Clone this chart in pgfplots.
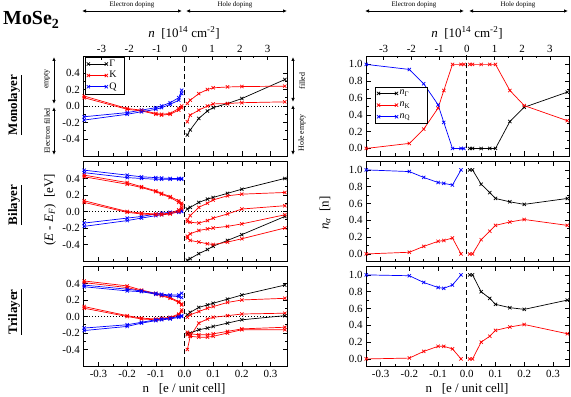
\documentclass[border=0pt]{standalone}
\usepackage{pgfplots}
\pgfplotsset{compat=1.18}
\usepackage{fontspec}
\setmainfont{Liberation Serif}
\usetikzlibrary{arrows.meta}
\definecolor{gred}{RGB}{255,0,0}
\definecolor{gblue}{RGB}{0,0,255}
\pgfplotsset{
  panel/.style={scale only axis, width=204.4bp, height=100bp, xmin=-0.353, xmax=0.36,
    tick align=inside, major tick length=4.5bp, minor tick length=2.5bp,
    every tick/.style={black, line width=0.6bp},
    axis line style={line width=0.9bp},
    xtick={-0.3,-0.2,-0.1,0,0.1,0.2,0.3}, minor x tick num=1, xticklabels={},
    tick label style={font=\fontsize{11}{12}\selectfont},
    every axis plot/.append style={line width=0.7bp, mark size=2.3bp, mark options={solid}},
    legend image code/.code={\draw[#1] plot coordinates {(0bp,0bp) (18bp,0bp)};},
  },
  epanel/.style={panel, ymin=-0.605, ymax=0.605, ytick={-0.4,-0.2,0,0.2,0.4},
    yticklabels={\textrm{-0.4},\textrm{-0.2},\textrm{0.0},\textrm{0.2},\textrm{0.4}}, minor y tick num=1},
  npanel/.style={panel, width=203bp, xmin=-0.351, xmax=0.356, ymin=-0.09, ymax=1.1,
    ytick={0,0.2,0.4,0.6,0.8,1.0}, yticklabels={\textrm{0.0},\textrm{0.2},\textrm{0.4},\textrm{0.6},\textrm{0.8},\textrm{1.0}}, minor y tick num=1},
  bottomlabels/.style={xticklabels={\textrm{-0.3},\textrm{-0.2},\textrm{-0.1},\textrm{0.0},\textrm{0.1},\textrm{0.2},\textrm{0.3}}},
  toppanel/.style={scale only axis, height=100bp, ymin=0, ymax=1, axis x line*=top, axis y line=none,
    tick align=inside, major tick length=4.5bp, minor tick length=2.5bp,
    every tick/.style={black, line width=0.6bp}, axis line style={line width=0.9bp},
    xtick={-0.2895,-0.193,-0.0965,0,0.0965,0.193,0.2895},
    xticklabels={\textrm{-3},\textrm{-2},\textrm{-1},\textrm{0},\textrm{1},\textrm{2},\textrm{3}},
    minor x tick num=1, tick label style={font=\fontsize{11}{12}\selectfont}},
  bk/.style={black, mark=x}, rd/.style={gred, mark=x}, bl/.style={gblue, mark=x},
  leg/.style={legend style={draw=black, line width=0.6bp, font=\fontsize{10}{11}\selectfont,
    inner sep=1.5bp, row sep=0.3bp, nodes={inner sep=1.5bp}}, legend cell align=left},
}
\newcommand{\vzero}{\addplot[black, mark=none, dash pattern=on 5bp off 3bp, line width=1bp, forget plot] coordinates {(0,-2)(0,2)};}
\newcommand{\hzero}{\addplot[black, mark=none, dash pattern=on 1bp off 2bp, line width=0.8bp, forget plot] coordinates {(-0.5,0)(0.5,0)};}
\begin{document}
\begin{tikzpicture}
\useasboundingbox (0,0) rectangle (571bp,397bp);
% ---------------- Left: monolayer
\begin{axis}[epanel, at={(83.3bp,341bp)}, anchor=north west, xtick pos=bottom, leg,
  legend style={at={(0.008,0.992)}, anchor=north west}]
\hzero \vzero
\addplot[bk] coordinates {(0.01,-0.35)(0.02,-0.29)(0.05,-0.15)(0.08,-0.06)(0.1,-0.02)(0.15,0.03)(0.2,0.09)(0.35,0.32)};
\addplot[rd] coordinates {(-0.35,0.12)(-0.2,-0.03)(-0.15,-0.05)(-0.1,-0.09)(-0.08,-0.10)(-0.05,-0.09)(-0.02,-0.03)(-0.01,0.0)};
\addplot[bl] coordinates {(-0.35,-0.13)(-0.2,-0.08)(-0.15,-0.05)(-0.1,-0.02)(-0.08,0.0)(-0.05,0.04)(-0.02,0.10)(-0.01,0.19)};
\addplot[rd, forget plot] coordinates {(-0.35,0.10)(-0.2,-0.04)(-0.15,-0.06)(-0.1,-0.10)(-0.08,-0.11)(-0.05,-0.10)(-0.02,-0.05)(-0.01,-0.02)};
\addplot[bl, forget plot] coordinates {(-0.35,-0.17)(-0.2,-0.10)(-0.15,-0.07)(-0.1,-0.04)(-0.08,-0.02)(-0.05,0.02)(-0.02,0.07)(-0.01,0.15)};
\addplot[rd, forget plot] coordinates {(0.01,0.03)(0.02,0.07)(0.05,0.15)(0.08,0.20)(0.1,0.22)(0.15,0.23)(0.2,0.235)(0.35,0.24)};
\addplot[rd, forget plot] coordinates {(0.01,-0.19)(0.02,-0.11)(0.05,-0.05)(0.08,0.0)(0.1,0.025)(0.15,0.03)(0.2,0.04)(0.35,0.05)};
\legend{Γ\hspace*{5bp},K\hspace*{5bp},Q\hspace*{5bp}}
\end{axis}
\begin{axis}[toppanel, width=204.4bp, xmin=-0.353, xmax=0.36, at={(83.3bp,341bp)}, anchor=north west]
\addplot[draw=none] coordinates {(0,0.5)};
\end{axis}
% ---------------- Left: bilayer
\begin{axis}[epanel, at={(83.3bp,235.5bp)}, anchor=north west]
\hzero \vzero
\addplot[bl] coordinates {(-0.35,0.50)(-0.2,0.44)(-0.15,0.42)(-0.1,0.41)(-0.08,0.405)(-0.05,0.40)(-0.02,0.40)(-0.01,0.40)};
\addplot[bl] coordinates {(-0.35,0.47)(-0.2,0.41)(-0.15,0.40)(-0.1,0.39)(-0.08,0.39)(-0.05,0.39)(-0.02,0.39)(-0.01,0.39)};
\addplot[bl] coordinates {(-0.35,-0.14)(-0.2,-0.08)(-0.15,-0.06)(-0.1,-0.03)(-0.08,-0.02)(-0.05,-0.01)(-0.02,0.0)(-0.01,0.01)};
\addplot[bl] coordinates {(-0.35,-0.18)(-0.2,-0.11)(-0.15,-0.08)(-0.1,-0.05)(-0.08,-0.04)(-0.05,-0.02)(-0.02,-0.01)(-0.01,0.0)};
\addplot[rd] coordinates {(-0.35,0.44)(-0.2,0.35)(-0.15,0.30)(-0.1,0.25)(-0.08,0.22)(-0.05,0.18)(-0.02,0.13)(-0.01,0.10)};
\addplot[rd] coordinates {(-0.35,0.42)(-0.2,0.33)(-0.15,0.29)(-0.1,0.24)(-0.08,0.21)(-0.05,0.17)(-0.02,0.11)(-0.01,0.08)};
\addplot[rd] coordinates {(-0.35,0.13)(-0.2,0.0)(-0.15,-0.02)(-0.1,-0.03)(-0.08,-0.03)(-0.05,-0.02)(-0.02,0.02)(-0.01,0.05)};
\addplot[rd] coordinates {(-0.35,0.11)(-0.2,-0.01)(-0.15,-0.03)(-0.1,-0.04)(-0.08,-0.04)(-0.05,-0.03)(-0.02,0.0)(-0.01,0.03)};
\addplot[bk] coordinates {(0.01,0.03)(0.02,0.05)(0.05,0.11)(0.08,0.15)(0.1,0.17)(0.15,0.22)(0.2,0.27)(0.35,0.40)};
\addplot[bk] coordinates {(0.01,-0.59)(0.02,-0.57)(0.05,-0.51)(0.08,-0.46)(0.1,-0.42)(0.15,-0.35)(0.2,-0.28)(0.35,-0.06)};
\addplot[rd] coordinates {(0.01,-0.10)(0.02,-0.05)(0.05,0.05)(0.08,0.10)(0.1,0.14)(0.15,0.19)(0.2,0.21)(0.35,0.23)};
\addplot[rd] coordinates {(0.01,-0.12)(0.02,-0.13)(0.05,-0.14)(0.08,-0.11)(0.1,-0.08)(0.15,-0.03)(0.2,0.03)(0.35,0.07)};
\addplot[rd] coordinates {(0.01,-0.30)(0.02,-0.27)(0.05,-0.23)(0.08,-0.21)(0.1,-0.20)(0.15,-0.18)(0.2,-0.15)(0.35,-0.04)};
\addplot[rd] coordinates {(0.01,-0.32)(0.02,-0.35)(0.05,-0.37)(0.08,-0.39)(0.1,-0.40)(0.15,-0.37)(0.2,-0.33)(0.35,-0.20)};
\end{axis}
% ---------------- Left: trilayer
\begin{axis}[epanel, at={(83.3bp,130.5bp)}, anchor=north west, bottomlabels]
\hzero \vzero
\addplot[rd] coordinates {(-0.35,0.43)(-0.2,0.37)(-0.15,0.32)(-0.1,0.28)(-0.08,0.26)(-0.05,0.23)(-0.02,0.18)(-0.01,0.15)};
\addplot[rd] coordinates {(-0.35,0.41)(-0.2,0.35)(-0.15,0.31)(-0.1,0.27)(-0.08,0.25)(-0.05,0.22)(-0.02,0.17)(-0.01,0.14)};
\addplot[bl] coordinates {(-0.35,0.38)(-0.2,0.33)(-0.15,0.31)(-0.1,0.28)(-0.08,0.27)(-0.05,0.26)(-0.02,0.26)(-0.01,0.28)};
\addplot[bl] coordinates {(-0.35,0.36)(-0.2,0.31)(-0.15,0.30)(-0.1,0.27)(-0.08,0.26)(-0.05,0.25)(-0.02,0.24)(-0.01,0.23)};
\addplot[rd] coordinates {(-0.35,0.12)(-0.2,0.01)(-0.15,-0.02)(-0.1,-0.03)(-0.08,-0.02)(-0.05,-0.01)(-0.02,0.03)(-0.01,0.08)};
\addplot[rd] coordinates {(-0.35,0.10)(-0.2,0.0)(-0.15,-0.03)(-0.1,-0.04)(-0.08,-0.03)(-0.05,-0.02)(-0.02,0.02)(-0.01,0.06)};
\addplot[bl] coordinates {(-0.35,-0.14)(-0.2,-0.10)(-0.15,-0.07)(-0.1,-0.04)(-0.08,-0.03)(-0.05,-0.02)(-0.02,0.0)(-0.01,0.01)};
\addplot[bl] coordinates {(-0.35,-0.17)(-0.2,-0.12)(-0.15,-0.08)(-0.1,-0.05)(-0.08,-0.04)(-0.05,-0.03)(-0.02,-0.01)(-0.01,0.0)};
\addplot[bk] coordinates {(0.01,0.02)(0.02,0.05)(0.05,0.11)(0.08,0.14)(0.1,0.16)(0.15,0.21)(0.2,0.26)(0.35,0.38)};
\addplot[rd] coordinates {(0.01,-0.01)(0.02,0.02)(0.05,0.06)(0.08,0.10)(0.1,0.12)(0.15,0.17)(0.2,0.20)(0.35,0.22)};
\addplot[rd] coordinates {(0.01,-0.40)(0.02,-0.24)(0.05,-0.08)(0.08,-0.03)(0.1,-0.01)(0.15,0.01)(0.2,0.03)(0.35,0.04)};
\addplot[bk] coordinates {(0.01,-0.21)(0.02,-0.20)(0.05,-0.16)(0.08,-0.14)(0.1,-0.12)(0.15,-0.08)(0.2,-0.04)(0.35,0.01)};
\addplot[rd] coordinates {(0.01,-0.19)(0.02,-0.21)(0.05,-0.22)(0.08,-0.22)(0.1,-0.21)(0.15,-0.18)(0.2,-0.15)(0.35,-0.13)};
\addplot[rd] coordinates {(0.01,-0.22)(0.02,-0.24)(0.05,-0.25)(0.08,-0.25)(0.1,-0.24)(0.15,-0.20)(0.2,-0.16)(0.35,-0.16)};
\end{axis}
% ---------------- Right: monolayer
\begin{axis}[npanel, at={(366bp,341bp)}, anchor=north west, xtick pos=bottom, leg,
  legend style={at={(0.045,0.69)}, anchor=north west, row sep=2.5bp}]
\vzero
\addplot[bk] coordinates {(0.01,0)(0.02,0)(0.05,0)(0.08,0)(0.1,0)(0.15,0.32)(0.2,0.49)(0.35,0.67)};
\addplot[rd] coordinates {(-0.35,0)(-0.2,0.06)(-0.15,0.23)(-0.1,0.48)(-0.08,0.69)(-0.05,1.0)(-0.02,1)(-0.01,1)};
\addplot[bl] coordinates {(-0.35,1.0)(-0.2,0.94)(-0.15,0.77)(-0.1,0.52)(-0.08,0.31)(-0.05,0.0)(-0.02,0)(-0.01,0)};
\addplot[rd, forget plot] coordinates {(0.01,1)(0.02,1)(0.05,1)(0.08,1)(0.1,1)(0.15,0.69)(0.2,0.51)(0.35,0.33)};
\legend{\textit{n}\textsubscript{Γ}\hspace*{14bp},\textit{n}\textsubscript{K}\hspace*{14bp},\textit{n}\textsubscript{Q}\hspace*{14bp}}
\end{axis}
\begin{axis}[toppanel, width=203bp, xmin=-0.351, xmax=0.356, at={(366bp,341bp)}, anchor=north west]
\addplot[draw=none] coordinates {(0,0.5)};
\end{axis}
% ---------------- Right: bilayer
\begin{axis}[npanel, at={(366bp,235.5bp)}, anchor=north west]
\vzero
\addplot[bl] coordinates {(-0.35,1)(-0.2,0.98)(-0.15,0.91)(-0.1,0.85)(-0.08,0.84)(-0.05,0.82)(-0.02,1.0)};
\addplot[rd] coordinates {(-0.35,0)(-0.2,0.02)(-0.15,0.09)(-0.1,0.15)(-0.08,0.16)(-0.05,0.19)(-0.02,0)};
\addplot[bk] coordinates {(0.01,1)(0.02,1)(0.05,0.83)(0.08,0.73)(0.1,0.66)(0.15,0.62)(0.2,0.59)(0.35,0.66)};
\addplot[rd] coordinates {(0.01,0)(0.02,0)(0.05,0.17)(0.08,0.27)(0.1,0.34)(0.15,0.38)(0.2,0.41)(0.35,0.34)};
\end{axis}
% ---------------- Right: trilayer
\begin{axis}[npanel, at={(366bp,130.5bp)}, anchor=north west, bottomlabels]
\vzero
\addplot[bl] coordinates {(-0.35,1)(-0.2,0.99)(-0.15,0.91)(-0.1,0.85)(-0.08,0.84)(-0.05,0.88)(-0.02,1)};
\addplot[rd] coordinates {(-0.35,0)(-0.2,0.01)(-0.15,0.09)(-0.1,0.15)(-0.08,0.15)(-0.05,0.12)(-0.02,0)};
\addplot[bk] coordinates {(0.01,1)(0.02,1)(0.05,0.8)(0.08,0.72)(0.1,0.65)(0.15,0.61)(0.2,0.59)(0.35,0.70)};
\addplot[rd] coordinates {(0.01,0)(0.02,0)(0.05,0.2)(0.08,0.27)(0.1,0.34)(0.15,0.38)(0.2,0.41)(0.35,0.3)};
\end{axis}
% ---------------- annotations
\node[anchor=base west, inner sep=0, font=\fontsize{20}{22}\selectfont\bfseries] at (3bp,372bp) {MoSe\textsubscript{2}};
\begin{scope}[line width=0.8bp, {Latex[length=4bp,width=3.5bp]}-{Latex[length=4bp,width=3.5bp]}]
\draw (82bp,386bp) -- (182bp,386bp);
\draw (186bp,386bp) -- (287bp,386bp);
\draw (365bp,386bp) -- (464bp,386bp);
\draw (469bp,386bp) -- (568bp,386bp);
\draw (54bp,340bp) -- (54bp,293bp);
\draw (54bp,290bp) -- (54bp,242bp);
\draw (293bp,340bp) -- (293bp,295bp);
\draw (293bp,292bp) -- (293bp,242bp);
\end{scope}
\begin{scope}[font=\fontsize{7}{8}\selectfont, inner sep=0]
\node at (132bp,392bp) {Electron doping};
\node at (235bp,392bp) {Hole doping};
\node at (414bp,392bp) {Electron doping};
\node at (518bp,392bp) {Hole doping};
\end{scope}
\begin{scope}[font=\fontsize{8}{9}\selectfont, inner sep=0]
\node[rotate=90] at (47bp,318bp) {empty};
\node[rotate=90] at (47bp,266bp) {Electron filled};
\node[rotate=90] at (302bp,316bp) {filled};
\node[rotate=90] at (302bp,264bp) {Hole empty};
\end{scope}
\begin{scope}[font=\fontsize{13}{15}\selectfont, inner sep=0]
\node at (184bp,364bp) {\textit{n}~~[10\textsuperscript{14} cm\textsuperscript{-2}]};
\node at (467bp,364bp) {\textit{n}~~[10\textsuperscript{14} cm\textsuperscript{-2}]};
\node at (184bp,8bp) {n~~~[e / unit cell]};
\node at (467bp,8bp) {n~~~[e / unit cell]};
\node[rotate=90] at (50bp,187bp) {(\textit{E} - \textit{E}\textsubscript{\textit{F}})~~[eV]};
\node[rotate=90] at (325bp,184bp) {\textit{n}\textsubscript{\textit{α}}~~[n]};
\end{scope}
\begin{scope}[font=\fontsize{13}{15}\selectfont\bfseries, inner sep=0]
\node[rotate=90] at (15bp,292bp) {\underline{Monolayer}};
\node[rotate=90] at (15bp,192bp) {\underline{Bilayer}};
\node[rotate=90] at (15bp,85bp) {\underline{Trilayer}};
\end{scope}
\end{tikzpicture}
\end{document}
